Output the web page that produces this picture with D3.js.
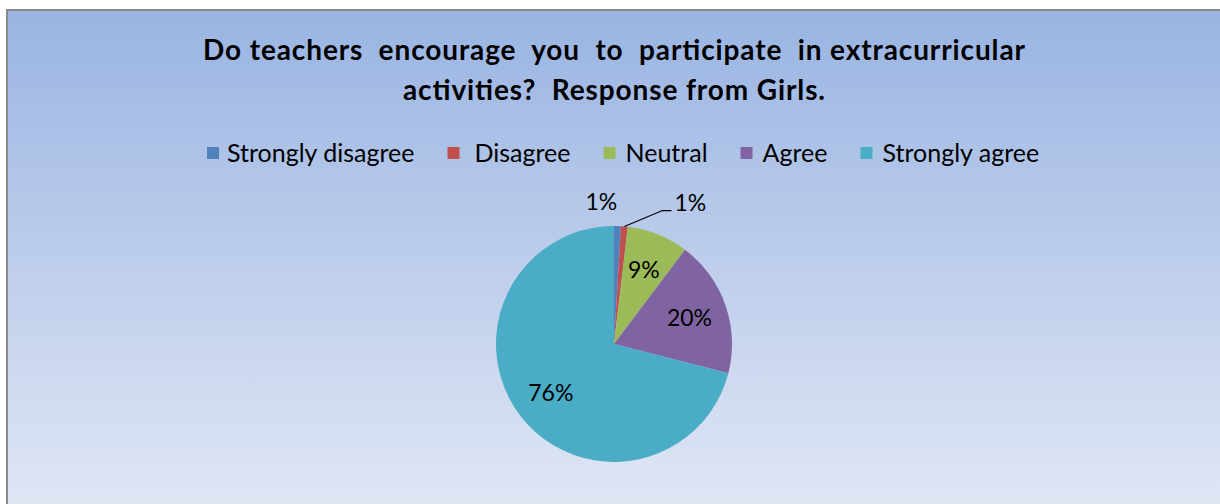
<!DOCTYPE html>
<html>
<head>
<meta charset="utf-8">
<script src="https://d3js.org/d3.v7.min.js"></script>
<style>
  body { margin: 0; background: #ffffff; }
  text { font-family: Lato, "Open Sans", sans-serif; }
</style>
</head>
<body>
<div id="cont"></div>
<script>
    // data
    var categories = ["Strongly disagree", "Disagree", "Neutral", "Agree", "Strongly agree"];
    var values = [1, 1, 9, 20, 76];
    var labels = ["1%", "1%", "9%", "20%", "76%"];
    var colors = ["#4f81bd", "#c0504d", "#9bbb59", "#8064a2", "#4bacc6"];
    var titleLines = ["Do teachers  encourage  you  to  participate  in extracurricular",
                      "activities?  Response from Girls."];
    var titleWidths = [822, 422];

    var width = 1220, height = 504;
    var cx = 614, cy = 344, radius = 118;

    var svg = d3.select("#cont").append("svg")
        .attr("width", width)
        .attr("height", height);

    var defs = svg.append("defs");
    var grad = defs.append("linearGradient")
        .attr("id", "bg")
        .attr("x1", 0).attr("y1", 0).attr("x2", 0).attr("y2", 1);
    grad.append("stop").attr("offset", "0%").attr("stop-color", "#99b4e2");
    grad.append("stop").attr("offset", "100%").attr("stop-color", "#e2e8f5");

    // chart area (runs off the right and bottom edge)
    svg.append("rect")
        .attr("x", 7).attr("y", 10)
        .attr("width", 1230).attr("height", 510)
        .attr("fill", "url(#bg)")
        .attr("stroke", "#8a8a8a")
        .attr("stroke-width", 2);

    // title
    svg.selectAll(".title")
        .data(titleLines)
        .enter().append("text")
        .attr("class", "title")
        .attr("x", 614)
        .attr("y", function (d, i) { return 60 + i * 40; })
        .attr("text-anchor", "middle")
        .attr("xml:space", "preserve")
        .style("white-space", "pre")
        .attr("font-size", 28)
        .attr("font-weight", "bold")
        .attr("textLength", function (d, i) { return titleWidths[i]; })
        .attr("lengthAdjust", "spacing")
        .attr("fill", "#000")
        .text(function (d) { return d; });

    // legend
    var legend = svg.append("g").attr("class", "legend");
    var items = legend.selectAll("g")
        .data(categories)
        .enter().append("g");
    items.append("rect")
        .attr("width", 12).attr("height", 12)
        .attr("y", 147)
        .attr("fill", function (d, i) { return colors[i]; });
    var pad = function (i) { return i == 0 ? 20 : (i == 1 ? 27 : 22); };
    items.append("text")
        .attr("x", function (d, i) { return pad(i); })
        .attr("y", 162)
        .attr("font-size", 25)
        .attr("fill", "#000")
        .text(function (d) { return d; });
    var xPos = 207;
    items.each(function (d, i) {
        var g = d3.select(this);
        g.attr("transform", "translate(" + xPos + ",0)");
        var w = g.select("text").node().getComputedTextLength();
        xPos += pad(i) + w + 33;
    });

    // pie
    var pie = d3.pie().sort(null).value(function (d) { return d; });
    var arcs = pie(values);
    var arc = d3.arc().innerRadius(0).outerRadius(radius);
    var labelArc = d3.arc().innerRadius(80).outerRadius(80);
    var outerArc = d3.arc().innerRadius(142).outerRadius(142);
    var edgeArc = d3.arc().innerRadius(radius).outerRadius(radius);

    var g = svg.append("g").attr("transform", "translate(" + cx + "," + cy + ")");
    g.selectAll("path")
        .data(arcs)
        .enter().append("path")
        .attr("d", arc)
        .attr("fill", function (d, i) { return colors[i]; });

    // inside labels
    g.selectAll(".inlabel")
        .data(arcs.filter(function (d) { return d.value > 5; }))
        .enter().append("text")
        .attr("class", "inlabel")
        .attr("transform", function (d) { return "translate(" + labelArc.centroid(d) + ")"; })
        .attr("text-anchor", "middle")
        .attr("dy", "0.35em")
        .attr("font-size", 23)
        .text(function (d) { return labels[d.index]; });

    // outside labels for the two small slices
    var small = arcs.filter(function (d) { return d.value <= 5; });
    var p0 = outerArc.centroid(small[0]);
    g.append("text")
        .attr("x", p0[0] - 1)
        .attr("y", p0[1])
        .attr("text-anchor", "end")
        .attr("dy", "0.35em")
        .attr("font-size", 23)
        .text(labels[small[0].index]);

    var e1 = edgeArc.centroid(small[1]);
    var p1 = outerArc.centroid(small[1]);
    var elbow = [p1[0] + 36, p1[1] + 8];
    var end = [elbow[0] + 9, elbow[1]];
    g.append("polyline")
        .attr("points", [e1, elbow, end].map(function (p) { return p.join(","); }).join(" "))
        .attr("fill", "none")
        .attr("stroke", "#000")
        .attr("stroke-width", 1.2);
    g.append("text")
        .attr("x", end[0] + 3)
        .attr("y", p1[1])
        .attr("dy", "0.35em")
        .attr("font-size", 23)
        .text(labels[small[1].index]);
</script>
</body>
</html>
